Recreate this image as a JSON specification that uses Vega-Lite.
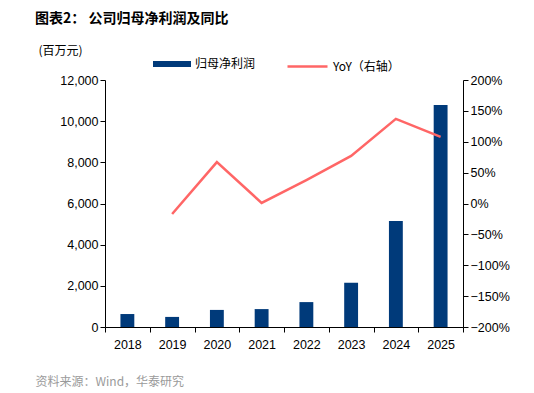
{
  "$schema": "https://vega.github.io/schema/vega-lite/v6.json",
  "autosize": {"type": "none"},
  "width": 358,
  "height": 247,
  "padding": {"left": 105, "top": 80, "right": 71, "bottom": 66},
  "background": "white",
  "config": {
    "view": {"stroke": null},
    "font": "Liberation Sans",
    "axis": {"labelFont": "Liberation Sans", "labelFontSize": 12.5, "labelColor": "#000", "domainColor": "#000", "tickColor": "#000", "grid": false, "tickSize": 5}
  },
  "title": {
    "text": "图表2：   公司归母净利润及同比",
    "anchor": "start",
    "frame": "group",
    "font": "Noto Sans CJK SC",
    "fontSize": 14,
    "fontWeight": "bold",
    "color": "#000",
    "dx": -70,
    "offset": 18
  },
  "data": {
    "values": [
      {"year": "2018", "profit": 630, "yoy": null},
      {"year": "2019", "profit": 490, "yoy": -0.17},
      {"year": "2020", "profit": 830, "yoy": 0.67},
      {"year": "2021", "profit": 870, "yoy": 0.01},
      {"year": "2022", "profit": 1210, "yoy": 0.38},
      {"year": "2023", "profit": 2150, "yoy": 0.77},
      {"year": "2024", "profit": 5150, "yoy": 1.37},
      {"year": "2025", "profit": 10780, "yoy": 1.08}
    ]
  },
  "encoding": {
    "x": {
      "field": "year",
      "type": "ordinal",
      "scale": {"paddingInner": 0, "paddingOuter": 0},
      "axis": {
        "labelAngle": 0,
        "tickBand": "extent",
        "labelPadding": 6,
        "title": "资料来源：Wind，华泰研究",
        "titleFont": "Noto Sans CJK SC",
        "titleFontSize": 12,
        "titleFontWeight": "normal",
        "titleColor": "#9a9a9a",
        "titleAnchor": "start",
        "titleAlign": "left",
        "titleBaseline": "middle",
        "titleX": -70,
        "titleY": 54
      }
    }
  },
  "layer": [
    {
      "mark": {"type": "bar", "width": {"band": 0.31}},
      "encoding": {
        "y": {
          "field": "profit",
          "type": "quantitative",
          "scale": {"domain": [0, 12000], "nice": false},
          "axis": {
            "values": [0, 2000, 4000, 6000, 8000, 10000, 12000],
            "format": ",.0f",
            "title": "(百万元)",
            "titleFont": "Noto Sans CJK SC",
            "titleFontSize": 12,
            "titleFontWeight": "normal",
            "titleColor": "#000",
            "titleAngle": 0,
            "titleX": -45,
            "titleY": -30,
            "titleAlign": "center",
            "titleBaseline": "middle"
          }
        },
        "fill": {
          "datum": "归母净利润",
          "type": "nominal",
          "scale": {"range": ["#003A7A"]},
          "legend": {
            "orient": "none",
            "legendX": 48,
            "legendY": -35,
            "title": null,
            "symbolType": "M-1,-0.16L1,-0.16L1,0.16L-1,0.16Z",
            "symbolSize": 1444,
            "symbolStrokeWidth": 0,
            "labelFont": "Noto Sans CJK SC",
            "labelFontSize": 12,
            "labelColor": "#000"
          }
        }
      }
    },
    {
      "mark": {"type": "line", "strokeWidth": 2.5},
      "encoding": {
        "y": {
          "field": "yoy",
          "type": "quantitative",
          "scale": {"domain": [-2, 2], "nice": false},
          "axis": {
            "orient": "right",
            "values": [-2, -1.5, -1, -0.5, 0, 0.5, 1, 1.5, 2],
            "format": ".0%",
            "title": null
          }
        },
        "stroke": {
          "datum": "YoY（右轴）",
          "type": "nominal",
          "scale": {"range": ["#FF6666"]},
          "legend": {
            "orient": "none",
            "legendX": 181,
            "legendY": -35,
            "title": null,
            "symbolType": "stroke",
            "symbolSize": 1600,
            "symbolStrokeWidth": 2.5,
            "labelFont": "Noto Sans CJK SC",
            "labelFontSize": 12,
            "labelColor": "#000"
          }
        }
      }
    }
  ],
  "resolve": {"scale": {"y": "independent"}}
}
